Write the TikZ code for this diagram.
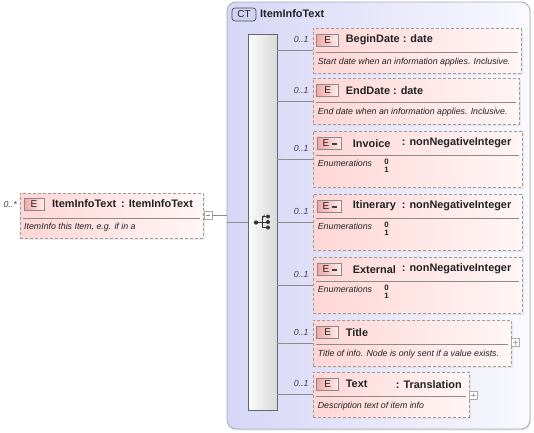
\documentclass[tikz,border=0pt]{standalone}
\usepackage{fontspec}
\setmainfont{Liberation Sans}
\usetikzlibrary{fit,shadows,calc}
\definecolor{ctL}{HTML}{D6D6F7}
\definecolor{ctR}{HTML}{F9F9FE}
\definecolor{ctB}{HTML}{A8A8B4}
\definecolor{ctLab}{HTML}{D2D2F2}
\definecolor{elL}{HTML}{FFD6D6}
\definecolor{elR}{HTML}{FFF6F6}
\definecolor{elB}{HTML}{9C9C9C}
\definecolor{icL}{HTML}{F2A8A8}
\definecolor{icR}{HTML}{FFEEEE}
\definecolor{icB}{HTML}{8A8A8A}
\definecolor{ln}{HTML}{8C8C8C}
\definecolor{seqL}{HTML}{FBFBFB}
\definecolor{seqR}{HTML}{D9D9D9}
\definecolor{txt}{HTML}{222222}
\definecolor{pmB}{HTML}{A8A8A8}

\newcommand\hdrfont{\bfseries\fontsize{10.9}{12}\selectfont}
\newcommand\descfont{\itshape\fontsize{8.8}{10}\selectfont}

% element box with connector and cardinality
\newcommand\child[5]{%
  \node[elbox, fit={(#2,#3) (#4,#5)}] (#1) {};
  \draw[conn] (seq.east |- #1.west) -- (#1.west);
  \node[card, anchor=east] (#1C) at ($(#1.west)+(-4,-11)$) {0..1};
}
\newcommand\eic[1]{\node[eicon] (#1E) at ($(#1.north west)+(15,12.5)$) {E};}
\newcommand\eenum[1]{\node[eicon, minimum width=24pt] (#1E) at ($(#1.north west)+(17,12.5)$) {E\hspace{2.5pt}\textcolor{black!75}{\rule[0.3ex]{5pt}{1.8pt}}};}
\newcommand\hdrline[1]{\draw[hl] ($(#1.north west)+(3,25)$) -- ($(#1.north east)+(-3,25)$);}
\newcommand\enums[1]{%
  \node[desc] (#1En) at ($(#1.north west)+(5,33)$) {Enumerations};
  \node[ev] (#1V0) at ($(#1.north west)+(74,31)$) {0};
  \node[ev] (#1V1) at ($(#1.north west)+(74,39)$) {1};
}

\begin{document}
\begin{tikzpicture}[x=1pt,y=-1pt,
  ctbox/.style={draw=ctB, line width=0.8pt, rounded corners=9pt, left color=ctL, right color=ctR, inner sep=0pt,
    drop shadow={shadow xshift=1pt, shadow yshift=-1.5pt, fill=black!18}},
  ctlab/.style={draw=black!70, line width=0.7pt, rounded corners=3pt, fill=ctLab, minimum width=24pt, minimum height=13pt, inner sep=0pt, font=\fontsize{10}{11}\selectfont, text=txt},
  seqbar/.style={draw=black!60, line width=0.7pt, left color=seqL, right color=seqR, inner sep=0pt,
    drop shadow={shadow xshift=1pt, shadow yshift=-1pt, fill=black!15}},
  elbox/.style={draw=elB, line width=0.7pt, dash pattern=on 3pt off 2pt, left color=elL, right color=elR, inner sep=0pt,
    drop shadow={shadow xshift=1.5pt, shadow yshift=-1.5pt, fill=black!14}},
  eicon/.style={draw=icB, line width=0.6pt, left color=icL, right color=icR, minimum width=22pt, minimum height=12pt, inner sep=0pt, font=\fontsize{10}{11}\selectfont, text=txt},
  hdr/.style={anchor=west, inner sep=0pt, font=\hdrfont, text=txt},
  desc/.style={anchor=west, inner sep=0pt, font=\descfont, text=txt},
  card/.style={inner sep=0pt, font=\itshape\fontsize{8.8}{10}\selectfont, text=black!75},
  ev/.style={inner sep=0pt, font=\bfseries\fontsize{7.8}{8}\selectfont, text=txt},
  conn/.style={draw=ln, line width=0.7pt},
  hl/.style={draw=ln, line width=0.6pt},
  pm/.style={draw=pmB, line width=0.6pt, fill=white, minimum size=8pt, inner sep=0pt},
  sym/.style={draw=black!80, line width=0.9pt}
]
\useasboundingbox (0,0) rectangle (534,432);

% complex type container
\node[ctbox, fit={(227,2) (530,429)}] (ct) {};
\node[ctlab] (ctl) at (244,14.5) {CT};
\node[hdr, anchor=west] (ctt) at (260,14) {ItemInfoText};

% sequence bar
\node[seqbar, fit={(248,34) (277,410)}] (seq) {};
% sequence symbol
\draw[sym] (256,222.5) -- (262,222.5);
\draw[sym] (262,216.5) -- (262,227.5);
\draw[sym] (262,216.5) -- (268,216.5);
\draw[sym] (262,222) -- (268,222);
\draw[sym] (262,227.5) -- (268,227.5);
\draw[draw=black!80, line width=0.6pt] (262,220) -- (264.5,214.5);
\fill[black!80] (256,222.5) circle [radius=2.1pt];
\fill[black!80] (268,216.5) circle [radius=2pt];
\fill[black!80] (268,222) circle [radius=2pt];
\fill[black!80] (268,227.5) circle [radius=2pt];

% left element
\node[elbox, fit={(20,193) (203,238)}] (itm) {};
\node[card, anchor=east] (itmC) at (17,204) {0..*};
\node[eicon, minimum width=20pt] (itmE) at (34,204.5) {E};
\node[hdr] (itmH) at (52,204) {ItemInfoText\hspace{2pt} : ItemInfoText};
\draw[hl] (23,218) -- (200,218);
\node[desc] (itmD) at (24,227) {ItemInfo this Item, e.g. if in a};
\node[pm] (itmM) at (208,215.5) {};
\draw[ln, line width=0.6pt] ($(itmM.west)+(2,0)$) -- ($(itmM.east)+(-2,0)$);
\draw[conn] (itmM.east) -- (ct.west |- itmM.east);
\draw[conn] (ct.west |- seq.west) -- (seq.west);

% BeginDate
\child{bd}{313}{28}{521}{73}
\eic{bd}
\node[hdr] (bdH) at ($(bd.north west)+(33,12.5)$) {BeginDate : date};
\hdrline{bd}
\node[desc] (bdD) at ($(bd.north west)+(5,35)$) {Start date when an information applies. Inclusive.};

% EndDate
\child{ed}{313}{78}{519}{124}
\eic{ed}
\node[hdr] (edH) at ($(ed.north west)+(33,12.5)$) {EndDate : date};
\hdrline{ed}
\node[desc] (edD) at ($(ed.north west)+(5,35)$) {End date when an information applies. Inclusive.};

% Invoice
\child{inv}{313}{131}{522}{187}
\eenum{inv}
\node[hdr] (invH) at ($(inv.north west)+(40,12.5)$) {Invoice};
\node[hdr] (invT) at ($(inv.north west)+(89,12.5)$) {: nonNegativeInteger};
\hdrline{inv}
\enums{inv}

% Itinerary
\child{iti}{313}{194}{522}{250}
\eenum{iti}
\node[hdr] (itiH) at ($(iti.north west)+(40,12.5)$) {Itinerary};
\node[hdr] (itiT) at ($(iti.north west)+(89,12.5)$) {: nonNegativeInteger};
\hdrline{iti}
\enums{iti}

% External
\child{ext}{313}{257}{522}{313}
\eenum{ext}
\node[hdr] (extH) at ($(ext.north west)+(40,12.5)$) {External};
\node[hdr] (extT) at ($(ext.north west)+(89,12.5)$) {: nonNegativeInteger};
\hdrline{ext}
\enums{ext}

% Title
\child{tit}{313}{320}{511}{366}
\eic{tit}
\node[hdr] (titH) at ($(tit.north west)+(33,12.5)$) {Title};
\hdrline{tit}
\node[desc] (titD) at ($(tit.north west)+(5,35)$) {Title of info. Node is only sent if a value exists.};
\node[pm] (titP) at (515.5,342.5) {};
\draw[pmB, line width=0.6pt] ($(titP.west)+(2,0)$) -- ($(titP.east)+(-2,0)$);
\draw[pmB, line width=0.6pt] ($(titP.north)+(0,2)$) -- ($(titP.south)+(0,-2)$);

% Text
\child{tx}{313}{372}{469}{417}
\eic{tx}
\node[hdr] (txH) at ($(tx.north west)+(33,12.5)$) {Text};
\node[hdr] (txT) at ($(tx.north west)+(83,12.5)$) {: Translation};
\hdrline{tx}
\node[desc] (txD) at ($(tx.north west)+(5,35)$) {Description text of item info};
\node[pm] (txP) at (473.5,395) {};
\draw[pmB, line width=0.6pt] ($(txP.west)+(2,0)$) -- ($(txP.east)+(-2,0)$);
\draw[pmB, line width=0.6pt] ($(txP.north)+(0,2)$) -- ($(txP.south)+(0,-2)$);

\end{tikzpicture}
\end{document}
